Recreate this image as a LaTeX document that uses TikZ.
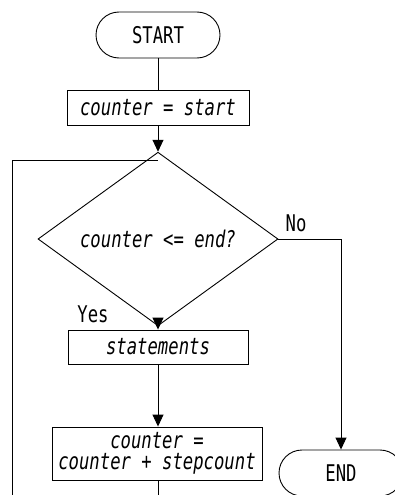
\documentclass[tikz,border=0pt]{standalone}
\usepackage{fontspec}
\setmonofont{DejaVu Sans Mono}[FakeStretch=0.75]
\usetikzlibrary{shapes.geometric,shapes.misc,arrows.meta}
\begin{document}
\begin{tikzpicture}[x=1pt,y=1pt,
  every node/.style={font=\ttfamily\fontsize{23}{21}\selectfont},
  base/.style={draw,line width=0.9pt,inner sep=0pt},
  term/.style={base,rounded rectangle,minimum width=124pt,minimum height=46pt},
  proc/.style={base,rectangle,align=center},
  cond/.style={base,diamond,minimum width=240pt,minimum height=108pt},
  code/.style={font=\ttfamily\itshape\fontsize{23}{21}\selectfont},
  lbl/.style={inner sep=0pt},
  link/.style={line width=0.9pt},
  arr/.style={link,-{Triangle[length=12pt,width=11pt]}}
]
\clip (0,0) rectangle (395,-495);
\node[term] (start) at (158,-35) {START};
\node[proc,code,minimum width=182pt,minimum height=35pt] (init) at (158,-107.5) {counter = start};
\node[cond,code] (test) at (158,-239) {counter <= end?};
\node[proc,code,minimum width=180pt,minimum height=34pt] (stmt) at (158,-347) {statements};
\node[proc,code,minimum width=210pt,minimum height=53pt] (incr) at (157,-453.5) {counter =\\counter + stepcount};
\node[term] (endn) at (341,-473) {END};
\node[lbl] (no) at (296,-223) {No};
\node[lbl] (yes) at (93,-314) {Yes};
\coordinate (join) at (init.south |- 0,-160);
\coordinate (below) at (test.south |- 0,-520);
\coordinate (leftb) at (12,-520);
\draw[link] (start.south) -- (init.north);
\draw[arr] (init.south) -- (test.north);
\draw[arr] (test.south) -- (stmt.north);
\draw[arr] (stmt.south) -- (test.south |- incr.north);
\draw[arr] (test.east) -| (endn.north);
\draw[link] (test.south |- incr.south) -- (below) -- (leftb) |- (join);
\end{tikzpicture}
\end{document}
